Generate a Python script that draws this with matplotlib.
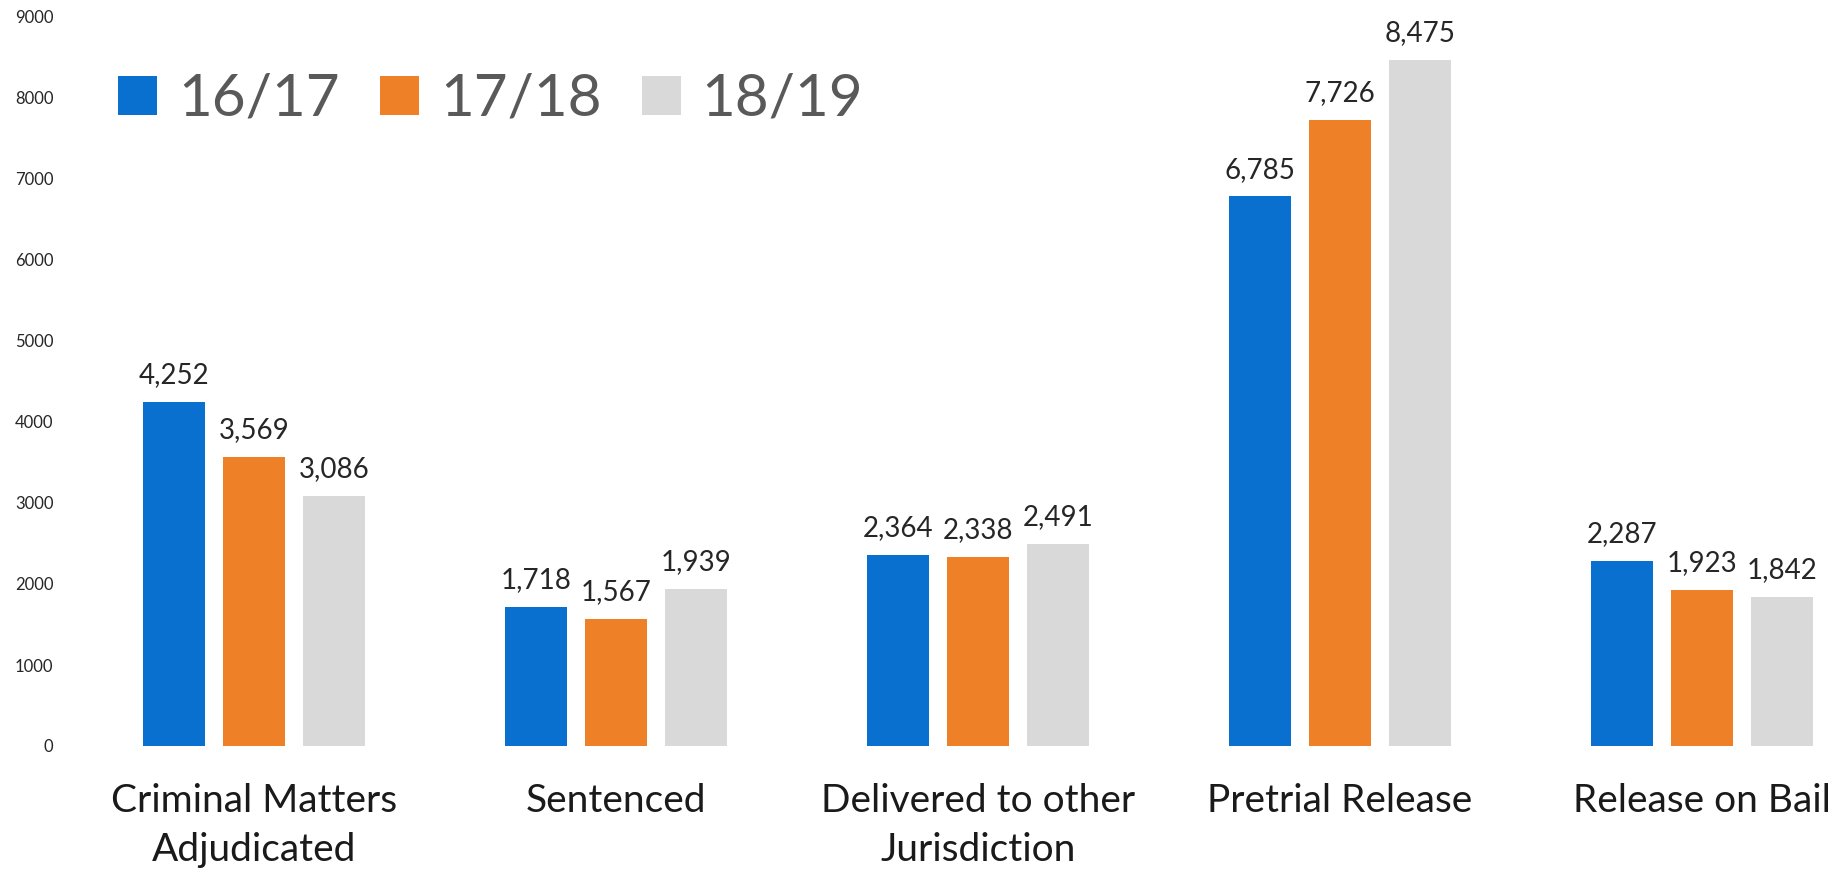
import matplotlib
matplotlib.use("Agg")
import matplotlib.pyplot as plt
from matplotlib.patches import Patch
import numpy as np

# Chart data
categories = ["Criminal Matters\nAdjudicated", "Sentenced", "Delivered to other\nJurisdiction",
              "Pretrial Release", "Release on Bail"]
years = ["16/17", "17/18", "18/19"]
vals_1617 = [4252, 1718, 2364, 6785, 2287]
vals_1718 = [3569, 1567, 2338, 7726, 1923]
vals_1819 = [3086, 1939, 2491, 8475, 1842]
yticks = [0, 1000, 2000, 3000, 4000, 5000, 6000, 7000, 8000, 9000]

colors = ["#0A70CF", "#EE8127", "#D9D9D9"]

plt.rcParams['font.family'] = ['Lato', 'DejaVu Sans']

W, H = 1848, 873
fig = plt.figure(figsize=(W / 100, H / 100), dpi=100)
ax = fig.add_axes([73 / W, (H - 746) / H, (W - 73) / W, (746 - 17) / H])

x = np.arange(len(categories))
step = 0.221
bw = 0.174
series = [vals_1617, vals_1718, vals_1819]
for i, (vals, c) in enumerate(zip(series, colors)):
    pos = x + (i - 1) * step
    ax.bar(pos, vals, width=bw, color=c, label=years[i])
    for p, v in zip(pos, vals):
        ax.text(p, v + 170, f"{v:,}", ha="center", va="bottom",
                fontsize=20, color="#262626")

ax.set_xlim(-0.5, (W - 254) / 362)
ax.set_ylim(0, 9000)
ax.set_yticks(yticks)
ax.set_yticklabels([str(t) for t in yticks], fontsize=12, color="#262626")
ax.set_xticks(x)
ax.set_xticklabels(categories, fontsize=28, color="#1a1a1a", linespacing=1.44)
ax.tick_params(axis="both", length=0)
ax.tick_params(axis="y", pad=14)
ax.tick_params(axis="x", pad=27)
for s in ax.spines.values():
    s.set_visible(False)

# legend in the upper left
handles = [Patch(facecolor=c) for c in colors]
leg = ax.legend(handles, years, loc="upper left", bbox_to_anchor=(118 / W, 1 - 73 / H),
                bbox_transform=fig.transFigure, ncol=3, frameon=False,
                prop={"size": 42},
                handlelength=0.67, handleheight=0.67, handletextpad=0.36,
                columnspacing=0.69, borderpad=0, borderaxespad=0)
for t in leg.get_texts():
    t.set_color("#595959")

fig.savefig("out.png", dpi=100)
